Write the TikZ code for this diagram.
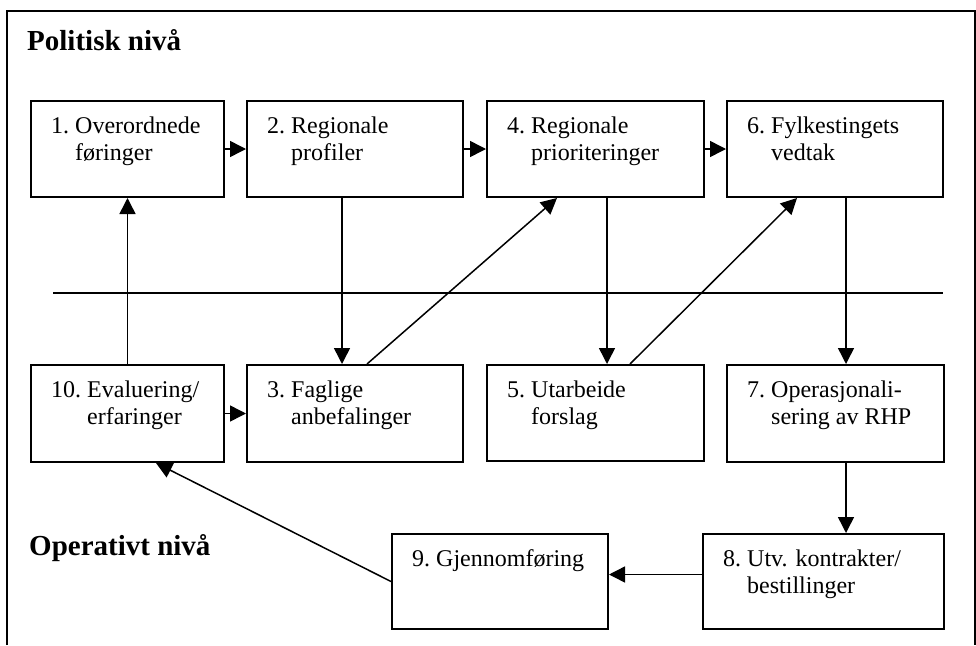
\documentclass[tikz,border=0pt]{standalone}
\usepackage{fontspec}
\setmainfont{Liberation Serif}
\usetikzlibrary{arrows.meta}

\newcommand{\numbered}[2]{\begin{tabular}{@{}l@{\ }l@{}}#1 & #2\end{tabular}}

\begin{document}
\begin{tikzpicture}[
    x=1pt, y=-1pt,
    stepbox/.style={draw, line width=2pt, anchor=north west, minimum width=216pt, minimum height=96pt},
    steptext/.style={anchor=north west, inner sep=0pt, xshift=21pt, yshift=-14pt, font=\fontsize{24}{27}\selectfont},
    level/.style={anchor=base west, inner sep=0pt, font=\fontsize{29}{34}\selectfont\bfseries},
    link/.style={line width=1.5pt, -{Triangle[length=16pt, width=16pt]}}
  ]
    \useasboundingbox (0,0) rectangle (976,645);
    \draw[line width=2.2pt] (7,645) -- (7,11) -- (975,11) -- (975,645);
    \draw[line width=1.8pt] (53,293) -- (943,293);

    \node[level] (politisk) at (27,50) {Politisk nivå};
    \node[level] (operativt) at (29,555) {Operativt nivå};

    % politisk nivå
    \node[stepbox, minimum width=193pt, label={[steptext]north west:{\numbered{1.}{Overordnede\\ & føringer}}}] (s1) at (30,100) {};
    \node[stepbox, label={[steptext]north west:{\numbered{2.}{Regionale\\ & profiler}}}] (s2) at (246,100) {};
    \node[stepbox, minimum width=217pt, label={[steptext]north west:{\numbered{4.}{Regionale\\ & prioriteringer}}}] (s4) at (486,100) {};
    \node[stepbox, label={[steptext]north west:{\numbered{6.}{Fylkestingets\\ & vedtak}}}] (s6) at (726,100) {};

    % operativt nivå
    \node[stepbox, minimum width=193pt, minimum height=97pt, label={[steptext]north west:{\numbered{10.}{Evaluering/\\ & erfaringer}}}] (s10) at (30,364) {};
    \node[stepbox, minimum height=97pt, label={[steptext]north west:{\numbered{3.}{Faglige\\ & anbefalinger}}}] (s3) at (246,364) {};
    \node[stepbox, minimum width=217pt, label={[steptext]north west:{\numbered{5.}{Utarbeide\\ & forslag}}}] (s5) at (486,364) {};
    \node[stepbox, minimum width=217pt, minimum height=97pt, label={[steptext]north west:{\numbered{7.}{Operasjonali-\\ & sering av RHP}}}] (s7) at (726,364) {};
    \node[stepbox, minimum width=241pt, minimum height=95pt, label={[steptext]north west:{\numbered{8.}{Utv. kontrakter/\\ & bestillinger}}}] (s8) at (702,533) {};
    \node[stepbox, minimum height=95pt, label={[steptext]north west:{\numbered{9.}{Gjennomføring}}}] (s9) at (391,533) {};

    \draw[link] (s1.east) -- (s2.west);
    \draw[link] (s2.east) -- (s4.west);
    \draw[link] (s4.east) -- (s6.west);
    \draw[link] ([xshift=96pt]s2.south west) -- ([xshift=96pt]s3.north west);
    \draw[link] ([xshift=121pt]s3.north west) -- ([xshift=71pt]s4.south west);
    \draw[link] ([xshift=121pt]s4.south west) -- ([xshift=121pt]s5.north west);
    \draw[link] ([xshift=144pt]s5.north west) -- ([xshift=71pt]s6.south west);
    \draw[link] ([xshift=120pt]s6.south west) -- ([xshift=120pt]s7.north west);
    \draw[link] ([xshift=120pt]s7.south west) -- ([xshift=144pt]s8.north west);
    \draw[link] ([yshift=7pt]s8.west) -- ([yshift=7pt]s8.west -| s9.east);
    \draw[link] (s9.west) -- ([xshift=126pt]s10.south west);
    \draw[link] (s10.east) -- (s3.west);
    \draw[link] (s10.north) -- (s1.south);
  \end{tikzpicture}
\end{document}
